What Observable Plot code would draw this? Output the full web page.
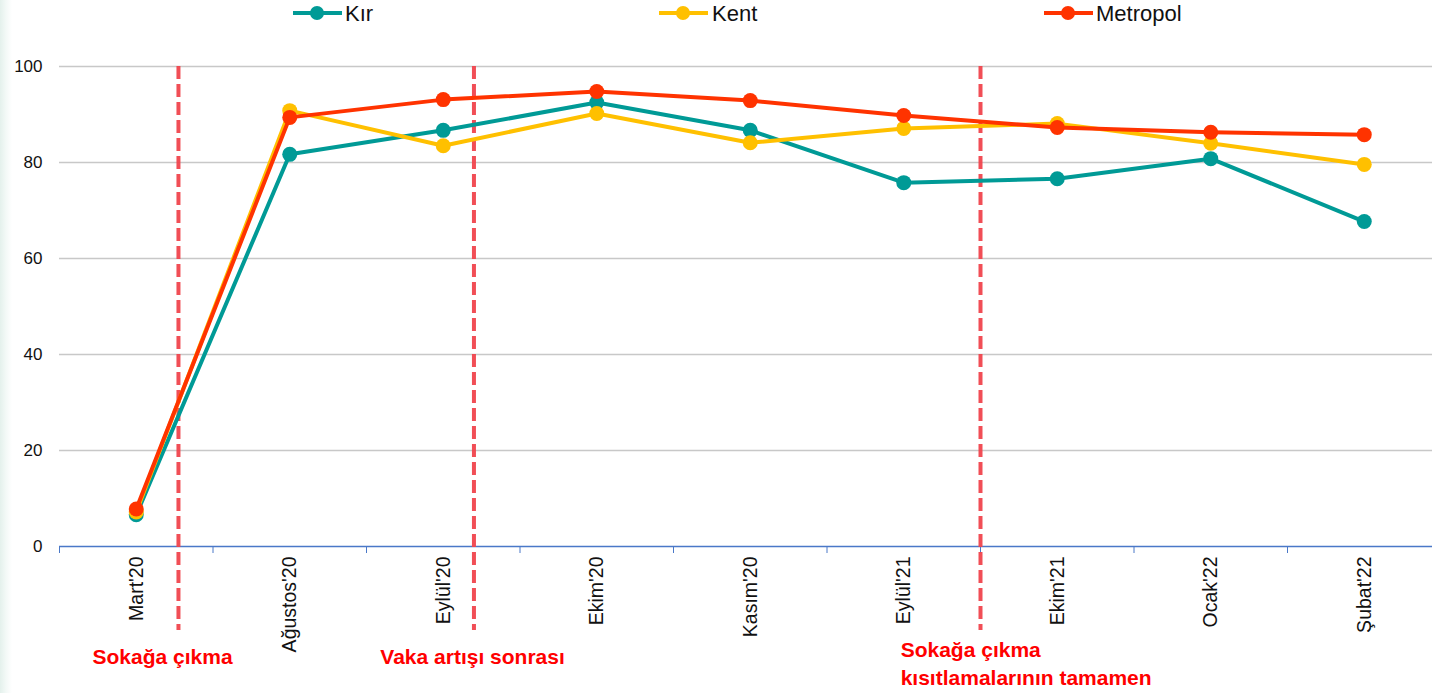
<!DOCTYPE html>
<html><head><meta charset="utf-8">
<script src="https://cdn.jsdelivr.net/npm/d3@7"></script>
<script src="https://cdn.jsdelivr.net/npm/@observablehq/plot@0.6"></script>
<style>
html,body{margin:0;padding:0;background:#fff;}
body{width:1432px;height:693px;overflow:hidden;position:relative;
 background:linear-gradient(to right,#e4f1ec 0px,#f3f9f7 6px,#ffffff 12px);}
#legend{position:absolute;left:0;top:0;width:1432px;height:30px;font-family:"Liberation Sans Narrow","Liberation Sans",sans-serif;font-size:22px;color:#111;}
.sw{position:absolute;top:11px;width:49px;height:4px;}
.sw i{position:absolute;left:17px;top:-5px;width:14px;height:14px;border-radius:50%;}
.lab{position:absolute;top:0;white-space:nowrap;line-height:26px;}
#chart{position:absolute;left:0;top:0;}
</style></head>
<body>
<div id="chart"></div>
<div id="legend"></div>
<script>
const months = ["Mart'20","Ağustos'20","Eylül'20","Ekim'20","Kasım'20","Eylül'21","Ekim'21","Ocak'22","Şubat'22"];
const seriesNames = ["Kır","Kent","Metropol"];
const seriesColors = ["#009a96","#ffc000","#ff3300"];
const kir = [6.6, 81.7, 86.7, 92.5, 86.7, 75.8, 76.6, 80.8, 67.7];
const kent = [7.2, 90.8, 83.5, 90.2, 84.1, 87.1, 88.1, 84.0, 79.6];
const metropol = [7.8, 89.4, 93.1, 94.8, 92.9, 89.8, 87.3, 86.3, 85.8];
const yTicks = [0, 20, 40, 60, 80, 100];
const eventX = [0.275, 2.2, 5.5];
const annoText = ["Sokağa çıkma", "Vaka artışı sonrası", "Sokağa çıkma", "kısıtlamalarının tamamen"];
const annoX = [-0.285, 1.59, 4.98, 4.98];
const annoY = [-23.1, -23.1, -21.7, -27.5];

const seriesValues = [kir, kent, metropol];
const rows = [];
seriesValues.forEach((vals, s) => vals.forEach((v, i) => rows.push({series: seriesNames[s], i, v})));
const annos = annoText.map((t, k) => ({t, x: annoX[k], y: annoY[k]}));
const idx = months.map((d, i) => i);
const bounds = months.map((d, i) => i - 0.5);

const chart = Plot.plot({
  width: 1432, height: 693,
  marginLeft: 59, marginRight: 0, marginTop: 66, marginBottom: 147,
  style: {fontFamily: "Liberation Sans, sans-serif", background: "transparent", overflow: "visible"},
  x: {type: "linear", domain: [-0.5, 8.5], range: [59, 1440.5], axis: null},
  y: {domain: [0, 100], range: [546, 66], axis: null},
  color: {domain: seriesNames, range: seriesColors},
  marks: [
    Plot.ruleY(yTicks.filter(d => d > 0), {stroke: "#c8c8c8", strokeWidth: 1.3}),
    Plot.axisY({ticks: yTicks, tickSize: 0, tickPadding: 17, fontSize: 17, label: null, color: "#111"}),
    Plot.ruleY([0], {stroke: "#4a78c8", strokeWidth: 1.5}),
    Plot.axisX({ticks: bounds, tickSize: 7, tickFormat: () => "", stroke: "#4a78c8", label: null}),
    Plot.axisX({ticks: idx, tickSize: 0, tickPadding: 10, tickRotate: -90, tickFormat: i => months[i], fontSize: 19.5, label: null, color: "#111"}),
    Plot.ruleX(eventX, {y1: 100, y2: -17.5, stroke: "#f0444d", strokeOpacity: 0.95, strokeWidth: 4, strokeDasharray: "13,5", clip: false}),
    Plot.line(rows, {x: "i", y: "v", z: "series", stroke: "series", strokeWidth: 4}),
    Plot.dot(rows, {x: "i", y: "v", fill: "series", r: 7.5, stroke: "none"}),
    Plot.text(annos, {x: "x", y: "y", text: "t", textAnchor: "start", fill: "#ff0000", fontSize: 21, fontWeight: "bold", fontFamily: "Liberation Sans Narrow, Liberation Sans, sans-serif", clip: false})
  ]
});
document.getElementById("chart").appendChild(chart);

const legendPos = [[293, 345], [659, 712], [1044, 1096]];
const lg = document.getElementById("legend");
seriesNames.forEach((n, k) => {
  const sw = document.createElement("div");
  sw.className = "sw"; sw.style.left = legendPos[k][0] + "px"; sw.style.background = seriesColors[k];
  const dot = document.createElement("i"); dot.style.background = seriesColors[k]; sw.appendChild(dot);
  const lab = document.createElement("div");
  lab.className = "lab"; lab.style.left = legendPos[k][1] + "px"; lab.style.top = "1px"; lab.textContent = n;
  lg.appendChild(sw); lg.appendChild(lab);
});
</script>
</body></html>
